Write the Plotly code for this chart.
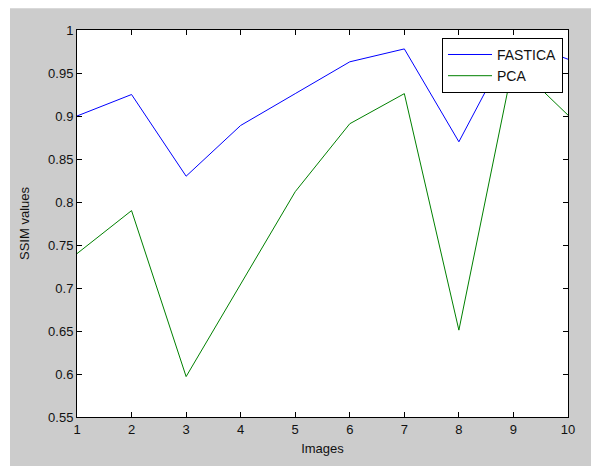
import plotly.graph_objects as go

images = [1, 2, 3, 4, 5, 6, 7, 8, 9, 10]
fastica = [0.900, 0.925, 0.830, 0.889, 0.926, 0.963, 0.978, 0.870, 0.990, 0.966]
pca = [0.740, 0.790, 0.597, 0.705, 0.812, 0.891, 0.926, 0.651, 0.962, 0.901]
y_ticks = [0.55, 0.6, 0.65, 0.7, 0.75, 0.8, 0.85, 0.9, 0.95, 1]
y_tick_labels = ["0.55", "0.6", "0.65", "0.7", "0.75", "0.8", "0.85", "0.9", "0.95", "1"]
x_ticks = images
x_tick_labels = [str(v) for v in images]

W, H = 591, 466
L, R, T, B = 77, 23, 30, 44
pw, ph = W - L - R, H - T - B

fig = go.Figure()
fig.add_trace(go.Scatter(x=images, y=fastica, mode="lines", name="FASTICA",
                         line=dict(color="#0000ff", width=1)))
fig.add_trace(go.Scatter(x=images, y=pca, mode="lines", name="PCA",
                         line=dict(color="#008000", width=1)))

font = dict(family="Liberation Sans, Arial, sans-serif", size=13, color="#111111")

axis_common = dict(showgrid=False, zeroline=False, showline=True, linecolor="black",
                   linewidth=1, mirror="ticks", ticks="inside", ticklen=5,
                   tickcolor="black", tickfont=font)

fig.update_xaxes(range=[1, 10], tickvals=x_ticks, ticktext=x_tick_labels,
                 title=dict(text="Images", font=font, standoff=8), **axis_common)
fig.update_yaxes(range=[0.55, 1], tickvals=y_ticks, ticktext=y_tick_labels,
                 title=dict(text="SSIM values", font=font, standoff=15), **axis_common)

# gray figure background with thin white outer margin
gx0 = (10 - L) / pw
gx1 = (W + 10 - L) / pw
gy1 = (H - B - 8) / ph
gy0 = (H - B - H - 10) / ph
fig.add_shape(type="rect", xref="paper", yref="paper", x0=gx0, x1=gx1, y0=gy0, y1=gy1,
              fillcolor="#cccccc", line=dict(width=0), layer="below")
fig.add_shape(type="rect", xref="paper", yref="paper", x0=0, x1=1, y0=0, y1=1,
              fillcolor="white", line=dict(width=0), layer="below")

fig.update_layout(
    width=W, height=H,
    margin=dict(l=L, r=R, t=T, b=B, pad=0),
    paper_bgcolor="white", plot_bgcolor="white",
    font=font,
    showlegend=True,
    legend=dict(x=(563 - L) / pw, y=(H - B - 38) / ph, xanchor="right", yanchor="top",
                bgcolor="white", bordercolor="black", borderwidth=1,
                font=dict(family="Liberation Sans, Arial, sans-serif", size=14, color="#111111"),
                tracegroupgap=0, itemwidth=44),
)

fig.write_html("out.html", config={"displayModeBar": False},
               post_script="document.body.style.margin='0';document.body.style.padding='0';document.body.style.overflow='hidden';")
